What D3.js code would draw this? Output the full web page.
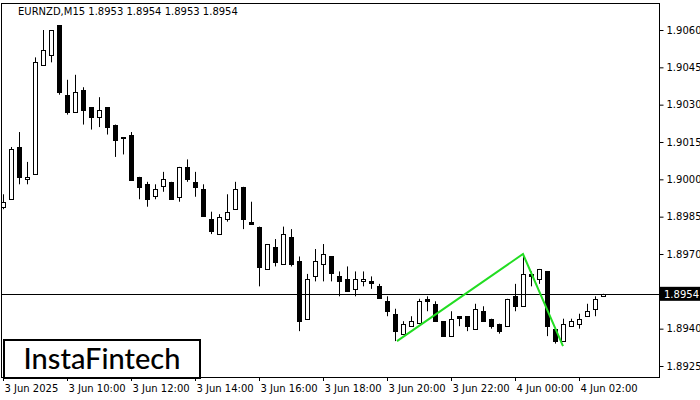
<!DOCTYPE html>
<html>
<head>
<meta charset="utf-8">
<script src="https://cdn.jsdelivr.net/npm/d3@7"></script>
<style>
  body { margin: 0; background: #fff; }
  svg { display: block; font-family: "DejaVu Sans", sans-serif; }
</style>
</head>
<body>
<svg id="chart" width="700" height="400"></svg>
<script>
// EURNZD M15, one row per bar: open, high, low, close
var opens  = [1.8989,1.8992,1.9013,1.9000,1.9002,1.9046,1.9050,1.9062,1.9034,1.9027,1.9036,1.9029,1.9025,1.9029,1.9022,1.9017,1.9018,1.9001,1.8998,1.8993,1.8997,1.8999,1.8993,1.9005,1.8999,
              1.8996,1.8984,1.8978,1.8984,1.8988,1.8997,1.8983,1.8981,1.8964,1.8973,1.8966,1.8977,1.8967,1.8944,1.8961,1.8966,1.8969,1.8961,1.8960,1.8956,1.8959,1.8959,1.8957,1.8951,1.8946,
              1.8938,1.8941,1.8942,1.8952,1.8950,1.8943,1.8937,1.8945,1.8945,1.8940,1.8947,1.8944,1.8942,1.8941,1.8953,1.8949,1.8962,1.8960,1.8963,1.8940,1.8935,1.8941,1.8942,1.8945,1.8948,1.8953];
var highs  = [1.8994,1.9013,1.9019,1.9007,1.9049,1.9060,1.9060,1.9062,1.9040,1.9042,1.9037,1.9029,1.9033,1.9029,1.9022,1.9017,1.9019,1.9001,1.8999,1.8998,1.9003,1.8999,1.9005,1.9008,1.9003,
              1.8998,1.8987,1.8986,1.8994,1.8999,1.8997,1.8991,1.8981,1.8974,1.8976,1.8981,1.8980,1.8969,1.8962,1.8972,1.8974,1.8969,1.8963,1.8965,1.8963,1.8963,1.8961,1.8958,1.8953,1.8948,
              1.8943,1.8945,1.8952,1.8953,1.8951,1.8943,1.8947,1.8945,1.8945,1.8950,1.8949,1.8944,1.8942,1.8952,1.8958,1.8970,1.8963,1.8964,1.8963,1.8940,1.8944,1.8944,1.8946,1.8950,1.8953,1.8954];
var lows   = [1.8988,1.8992,1.8998,1.8998,1.9002,1.9046,1.9047,1.9034,1.9026,1.9027,1.9022,1.9020,1.9021,1.9018,1.9009,1.9010,1.9000,1.8992,1.8989,1.8992,1.8995,1.8992,1.8991,1.8999,1.8993,
              1.8985,1.8978,1.8978,1.8983,1.8988,1.8980,1.8982,1.8957,1.8964,1.8965,1.8966,1.8965,1.8939,1.8944,1.8959,1.8959,1.8959,1.8953,1.8955,1.8953,1.8957,1.8956,1.8952,1.8945,1.8935,
              1.8938,1.8941,1.8942,1.8947,1.8943,1.8937,1.8937,1.8941,1.8939,1.8940,1.8943,1.8940,1.8938,1.8941,1.8947,1.8949,1.8957,1.8958,1.8937,1.8934,1.8935,1.8941,1.8940,1.8945,1.8945,1.8953];
var closes = [1.8991,1.9012,1.9001,1.9001,1.9047,1.9052,1.9060,1.9035,1.9027,1.9035,1.9028,1.9025,1.9028,1.9021,1.9016,1.9017,1.9000,1.8997,1.8992,1.8996,1.9000,1.8992,1.9005,1.9000,1.8997,
              1.8985,1.8979,1.8985,1.8987,1.8996,1.8984,1.8982,1.8965,1.8974,1.8967,1.8978,1.8966,1.8943,1.8960,1.8967,1.8970,1.8962,1.8959,1.8955,1.8960,1.8960,1.8958,1.8952,1.8947,1.8939,
              1.8942,1.8943,1.8951,1.8951,1.8943,1.8937,1.8944,1.8944,1.8941,1.8948,1.8943,1.8941,1.8939,1.8952,1.8949,1.8962,1.8961,1.8964,1.8941,1.8935,1.8942,1.8943,1.8944,1.8947,1.8952,1.8954];

var priceTicks = [1.9060,1.9045,1.9030,1.9015,1.9000,1.8985,1.8970,1.8955,1.8940,1.8925];
var timeLabels = ["3 Jun 2025","3 Jun 10:00","3 Jun 12:00","3 Jun 14:00","3 Jun 16:00","3 Jun 18:00","3 Jun 20:00","3 Jun 22:00","4 Jun 00:00","4 Jun 02:00"];
var timeLabelBars = [0,8,16,24,32,40,48,56,64,72];

// pattern line (bar index, price)
var patternBars   = [49.25, 65, 70];
var patternPrices = [1.8935, 1.8970, 1.8933];

var lastPrice = 1.8954;
var title = "EURNZD,M15  1.8953 1.8954 1.8953 1.8954";

var svg = d3.select("#chart");
var x = d3.scaleLinear().domain([0, 1]).range([3, 11]);
var y = d3.scaleLinear().domain([1.8925, 1.9060]).range([366, 30]);

// frame
svg.append("rect").attr("x", 1.5).attr("y", 3.5).attr("width", 658).attr("height", 374)
  .attr("fill", "none").attr("stroke", "#000");

// price axis (1.8955 hidden behind the last price box)
var yAxis = d3.axisRight(y).tickValues(priceTicks.filter(function(p){ return p !== 1.8955; }))
  .tickFormat(d3.format(".4f")).tickSize(4).tickPadding(3);
var ga = svg.append("g").attr("transform", "translate(659.5,0)").call(yAxis);
ga.select(".domain").remove();
ga.selectAll("text").attr("font-size", 10).attr("font-family", "DejaVu Sans, sans-serif");

// time labels
var tg = svg.append("g");
timeLabels.forEach(function(t, i) {
  var px = Math.round(x(timeLabelBars[i])) + 0.5;
  tg.append("line").attr("x1", px).attr("x2", px).attr("y1", 377).attr("y2", 381).attr("stroke", "#000");
  tg.append("text").attr("x", px + 1).attr("y", 392).attr("font-size", 10).text(t);
});

// candles
var data = opens.map(function(o, i) { return {i: i, o: o, h: highs[i], l: lows[i], c: closes[i]}; });
var cg = svg.append("g");
data.forEach(function(d) {
  var cx = Math.round(x(d.i)) + 0.5;
  cg.append("line").attr("x1", cx).attr("x2", cx).attr("y1", y(d.h)).attr("y2", y(d.l))
    .attr("stroke", "#000");
  var top = y(Math.max(d.o, d.c)), bot = y(Math.min(d.o, d.c));
  cg.append("rect").attr("x", cx - 2).attr("y", Math.round(top) + 0.5)
    .attr("width", 4).attr("height", Math.max(1, Math.round(bot - top)))
    .attr("fill", d.c >= d.o ? "#fff" : "#000").attr("stroke", "#000");
});

// last price line
svg.append("line").attr("x1", 2).attr("x2", 659).attr("y1", Math.round(y(lastPrice)) + 0.5)
  .attr("y2", Math.round(y(lastPrice)) + 0.5).attr("stroke", "#000");
svg.append("rect").attr("x", 660).attr("y", y(lastPrice) - 7).attr("width", 40).attr("height", 14).attr("fill", "#000");
svg.append("text").attr("x", 664).attr("y", y(lastPrice) + 4).attr("fill", "#fff").attr("font-size", 10).text("1.8954");

// pattern
var line = d3.line().x(function(d) { return x(d[0]); }).y(function(d) { return y(d[1]); });
svg.append("path").datum(patternBars.map(function(b, i) { return [b, patternPrices[i]]; }))
  .attr("d", line).attr("fill", "none").attr("stroke", "#22dd22").attr("stroke-width", 2);

// title
svg.append("text").attr("x", 18).attr("y", 15).attr("font-size", 10).text(title);

// logo
svg.append("rect").attr("x", 4).attr("y", 340).attr("width", 196).attr("height", 38)
  .attr("fill", "#fff").attr("stroke", "#000").attr("stroke-width", 2);
svg.append("text").attr("x", 102).attr("y", 369).attr("text-anchor", "middle")
  .attr("font-size", 29).attr("font-family", "Lato, sans-serif").attr("font-weight", 500)
  .text("InstaFintech");
</script>
</body>
</html>
